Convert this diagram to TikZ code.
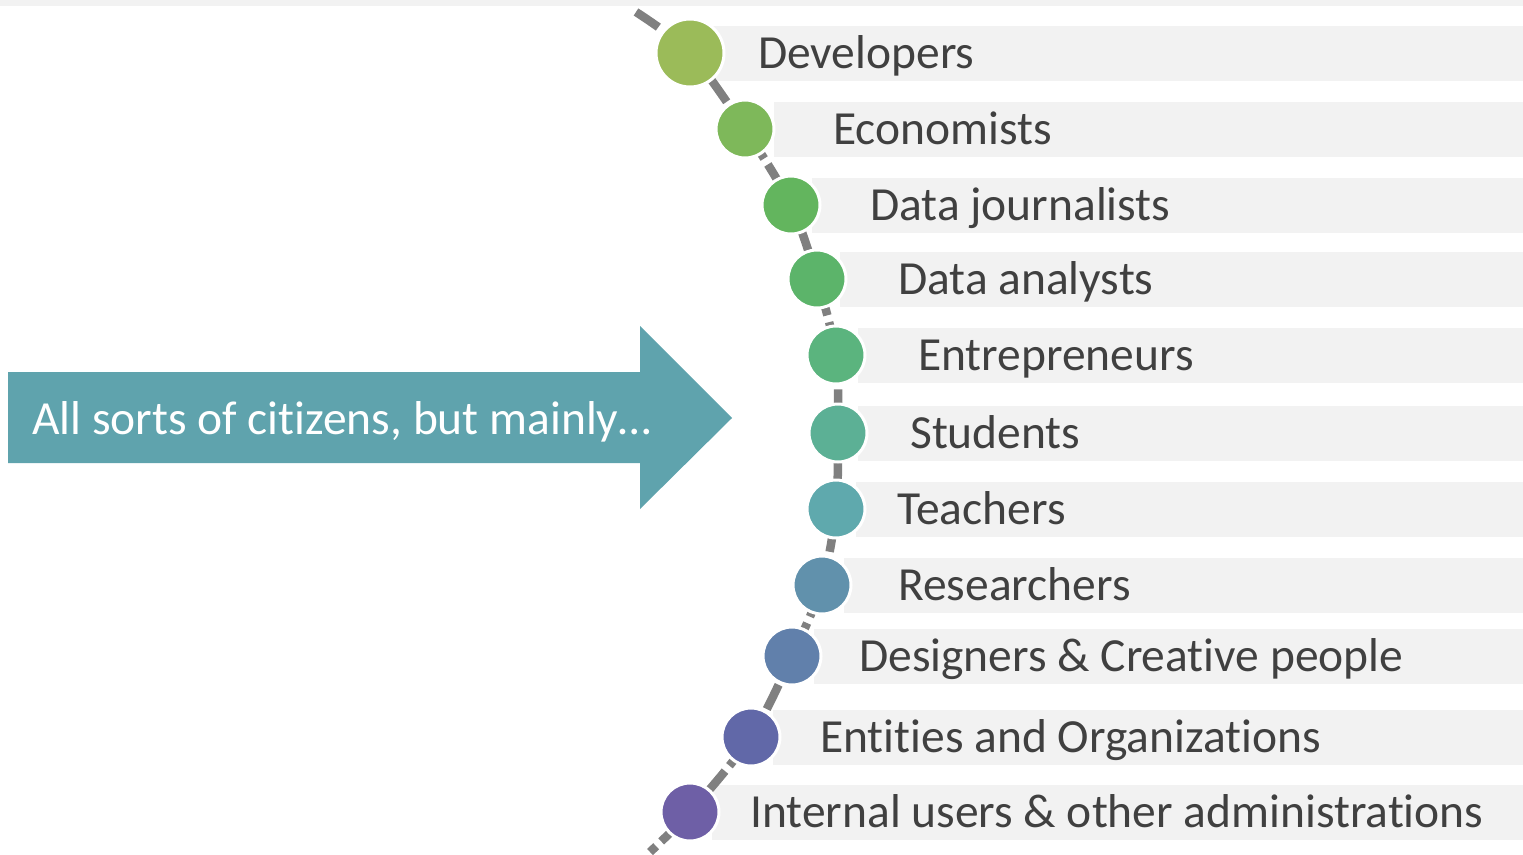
\documentclass[tikz,border=0pt]{standalone}
\usepackage{fontspec}
\setmainfont{Carlito}[Ligatures={NoCommon}]
\definecolor{barc}{HTML}{F2F2F2}
\definecolor{txtc}{HTML}{404040}
\definecolor{arrc}{HTML}{5FA3AD}
\definecolor{linec}{HTML}{808080}
\definecolor{cA}{HTML}{9BBB59}
\definecolor{cB}{HTML}{7EB85A}
\definecolor{cC}{HTML}{63B55E}
\definecolor{cD}{HTML}{5CB46A}
\definecolor{cE}{HTML}{5BB47E}
\definecolor{cF}{HTML}{5CB095}
\definecolor{cG}{HTML}{5FA9AD}
\definecolor{cH}{HTML}{6191AC}
\definecolor{cI}{HTML}{6180AB}
\definecolor{cJ}{HTML}{6168A8}
\definecolor{cK}{HTML}{6E5FA6}
\tikzset{
  dot/.style={circle,draw=white,line width=3pt,inner sep=0pt,minimum size=58pt},
  bigdot/.style={dot,minimum size=68pt},
  lbl/.style={anchor=base west,inner sep=0pt,text=txtc,font=\fontsize{47.5}{56}\selectfont},
  bar/.style={fill=barc},
  trail/.style={draw=linec,line width=8.5pt,dash pattern=on 27pt off 7pt}
}
\begin{document}
\begin{tikzpicture}[x=1pt,y=-1pt]
\useasboundingbox (0,0) rectangle (1523,854);
\fill[bar] (0,0) rectangle (1523,6);
% bars
\fill[bar] (710,26) rectangle (1523,81);
\fill[bar] (774,101.5) rectangle (1523,156.5);
\fill[bar] (812,177.5) rectangle (1523,232.5);
\fill[bar] (840,251.5) rectangle (1523,306.5);
\fill[bar] (858,327.5) rectangle (1523,382.5);
\fill[bar] (858,405.5) rectangle (1523,460.5);
\fill[bar] (856,481.5) rectangle (1523,536.5);
\fill[bar] (844,557.5) rectangle (1523,612.5);
\fill[bar] (814,628.5) rectangle (1523,683.5);
\fill[bar] (773,709.5) rectangle (1523,764.5);
\fill[bar] (712,784.5) rectangle (1523,839.5);
% path coordinates
\coordinate (top) at (636,12);
\coordinate (p1) at (690,53);
\coordinate (p2) at (745,129);
\coordinate (p3) at (791,205);
\coordinate (p4) at (817,279);
\coordinate (p5) at (836,355);
\coordinate (p6) at (838,433);
\coordinate (p7) at (836,509);
\coordinate (p8) at (822,585);
\coordinate (p9) at (792,656);
\coordinate (p10) at (751,737);
\coordinate (p11) at (690,812);
\coordinate (bot) at (650,852);
\draw[trail] plot[smooth,tension=0.5] coordinates {(top) (p1) (p2) (p3) (p4) (p5) (p6) (p7) (p8) (p9) (p10) (p11) (bot)};
% circles
\node[bigdot,fill=cA] (d1) at (p1) {};
\node[dot,fill=cB] (d2) at (p2) {};
\node[dot,fill=cC] (d3) at (p3) {};
\node[dot,fill=cD] (d4) at (p4) {};
\node[dot,fill=cE] (d5) at (p5) {};
\node[dot,fill=cF] (d6) at (p6) {};
\node[dot,fill=cG] (d7) at (p7) {};
\node[dot,fill=cH] (d8) at (p8) {};
\node[dot,fill=cI] (d9) at (p9) {};
\node[dot,fill=cJ] (d10) at (p10) {};
\node[dot,fill=cK] (d11) at (p11) {};
% labels
\node[lbl] (t1) at (758,68) {Developers};
\node[lbl] (t2) at (833,144) {Economists};
\node[lbl] (t3) at (870,220) {Data journalists};
\node[lbl] (t4) at (898,294) {Data analysts};
\node[lbl] (t5) at (918,370) {Entrepreneurs};
\node[lbl] (t6) at (910,448) {Students};
\node[lbl] (t7) at (897,524) {Teachers};
\node[lbl] (t8) at (898,600) {Researchers};
\node[lbl] (t9) at (859,671) {Designers \& Creative people};
\node[lbl] (t10) at (820,752) {Entities and Organizations};
\node[lbl] (t11) at (750,827) {Internal users \& other administrations};
% arrow
\fill[arrc] (8,372) -- (640,372) -- (640,326) -- (732,418) -- (640,509) -- (640,463) -- (8,463) -- cycle;
\node[lbl,text=white] (arrtxt) at (32,434) {All sorts of citizens, but mainly…};
\end{tikzpicture}
\end{document}
